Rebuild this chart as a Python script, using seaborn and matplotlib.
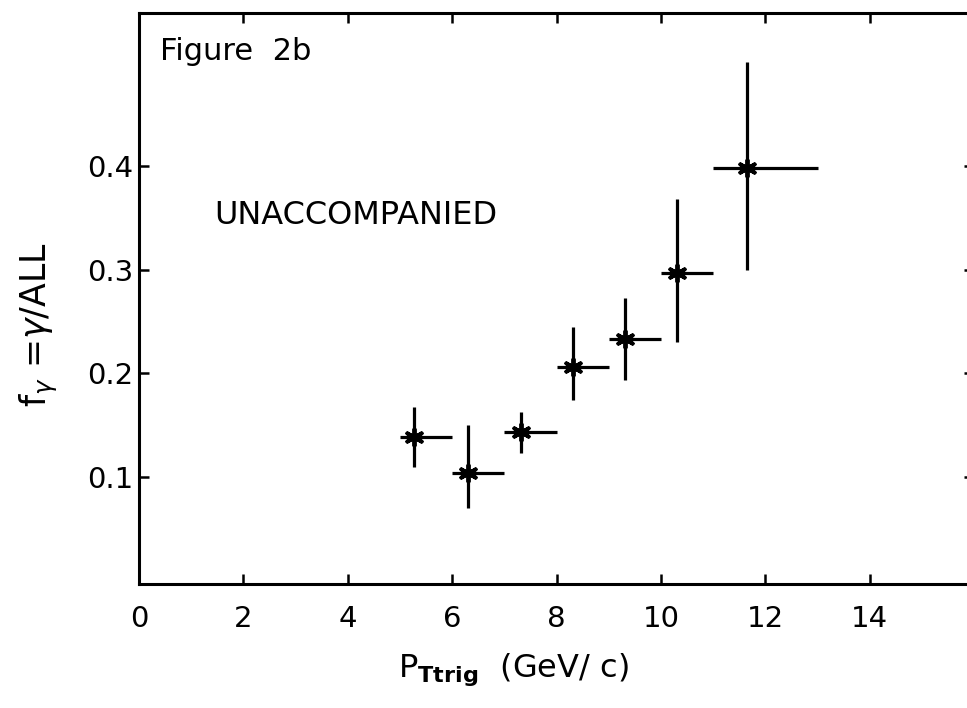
import numpy as np
import pandas as pd
import matplotlib
matplotlib.use('Agg')
import matplotlib.pyplot as plt
import seaborn as sns

# values
pt_mean = [5.27, 6.30, 7.32, 8.31, 9.31, 10.31, 11.65]
pt_low = [5.0, 6.0, 7.0, 8.0, 9.0, 10.0, 11.0]
pt_high = [6.0, 7.0, 8.0, 9.0, 10.0, 11.0, 13.0]
f_gamma = [0.139, 0.104, 0.143, 0.206, 0.233, 0.297, 0.398]
f_low = [0.110, 0.070, 0.123, 0.174, 0.194, 0.230, 0.300]
f_high = [0.168, 0.150, 0.163, 0.245, 0.273, 0.368, 0.501]

xticks = [0, 2, 4, 6, 8, 10, 12, 14]
yticks = [0.1, 0.2, 0.3, 0.4]

df = pd.DataFrame({'pt': pt_mean, 'f': f_gamma})

sns.set_theme(style='ticks')
plt.rcParams['font.family'] = ['DejaVu Sans']

fig = plt.figure(figsize=(9.67, 7.08), dpi=100)
ax = fig.add_axes([0.1437, 0.1751, 0.8637, 0.8065])

xerr = [np.array(pt_mean) - np.array(pt_low), np.array(pt_high) - np.array(pt_mean)]
yerr = [np.array(f_gamma) - np.array(f_low), np.array(f_high) - np.array(f_gamma)]
ax.errorbar(pt_mean, f_gamma, xerr=xerr, yerr=yerr, fmt='none',
            ecolor='black', elinewidth=2.3, capsize=0)
sns.scatterplot(data=df, x='pt', y='f', marker=(6, 2, 0), s=140,
                color='black', linewidth=2.8, ax=ax, zorder=3)

ax.set_xlim(0, 16)
ax.set_ylim(-0.0034, 0.548)
ax.set_xticks(xticks)
ax.set_xticklabels([str(t) for t in xticks])
ax.set_yticks(yticks)
ax.set_yticklabels([f'{t:.1f}' for t in yticks])

ax.tick_params(axis='x', direction='in', length=7, width=1.8, labelsize=21,
               pad=15, top=True, color='black', labelcolor='black')
ax.tick_params(axis='y', direction='in', length=7, width=1.8, labelsize=21,
               pad=4, right=True, color='black', labelcolor='black')
for s in ax.spines.values():
    s.set_linewidth(2.2)
    s.set_color('black')

ax.set_xlabel(r'P$_{\mathbf{Ttrig}}$  (GeV/ c)', fontsize=23, color='black')
ax.xaxis.set_label_coords((513 - 139) / 835, -0.118)
ax.set_ylabel(r'f$_{\gamma}$ =$\gamma$/ALL', fontsize=25, color='black')
ax.yaxis.set_label_coords(-0.094, 0.454)

ax.text(0.025, 0.958, 'Figure  2b', transform=ax.transAxes, fontsize=22,
        va='top', ha='left', color='black')
ax.text(0.09, 0.646, 'UNACCOMPANIED', transform=ax.transAxes, fontsize=23,
        va='center', ha='left', color='black')

fig.savefig('out.png', dpi=100)
